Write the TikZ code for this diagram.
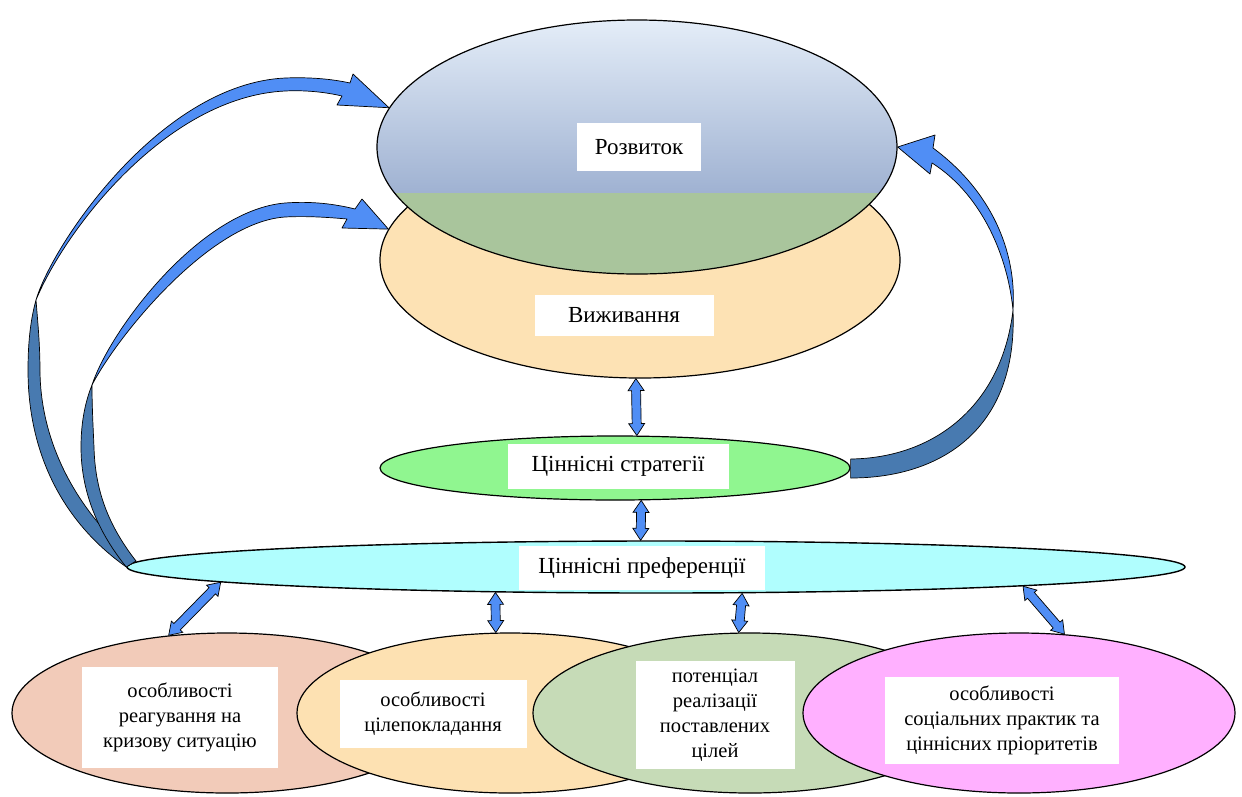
\documentclass[tikz,border=0pt]{standalone}
\usepackage{fontspec}
\setmainfont{Liberation Serif}
\usetikzlibrary{shapes.geometric,calc}

\definecolor{rozvtop}{RGB}{228,237,248}
\definecolor{rozvbot}{RGB}{127,150,192}
\definecolor{rozvgreen}{RGB}{169,197,156}
\definecolor{vyzhfill}{RGB}{253,226,180}
\definecolor{stratfill}{RGB}{144,246,144}
\definecolor{preffill}{RGB}{176,254,254}
\definecolor{crisisfill}{RGB}{242,203,185}
\definecolor{goalfill}{RGB}{253,225,178}
\definecolor{potfill}{RGB}{198,219,183}
\definecolor{practfill}{RGB}{255,176,255}
\definecolor{arrowblue}{RGB}{80,142,245}
\definecolor{arrowdark}{RGB}{72,122,176}

\tikzset{
  oval/.style={ellipse,draw,line width=1.2pt,inner sep=0pt},
  labelbox/.style={fill=white,inner sep=0pt,align=center,font=\fontsize{23}{28}\selectfont},
  smallbox/.style={labelbox,font=\fontsize{20.5}{25}\selectfont},
  ribbon/.style={draw,line width=0.7pt,line join=round},
  blockarrow/.style={draw,fill=arrowblue,line width=0.7pt,
    to path={let \p1=($(\tikztotarget)-(\tikztostart)$),
      \n1={atan2(\y1,\x1)}, \n2={veclen(\x1,\y1)} in
      [shift={(\tikztostart)},rotate=\n1]
      (0,0) -- (12,8) -- (12,4.5) -- (\n2-12,4.5) -- (\n2-12,8) -- (\n2,0)
      -- (\n2-12,-8) -- (\n2-12,-4.5) -- (12,-4.5) -- (12,-8) -- cycle}}
}

\begin{document}
\begin{tikzpicture}[x=1pt,y=-1pt]
  \useasboundingbox (0,0) rectangle (1242,796);

  % upper pair
  \node[oval,fill=vyzhfill,minimum width=520pt,minimum height=236pt] (vyzh) at (640,260) {};
  \node[oval,minimum width=520pt,minimum height=254pt,top color=rozvtop,bottom color=rozvbot,
    path picture={\fill[rozvgreen] (path picture bounding box.south west)
      rectangle ([yshift=-46pt]path picture bounding box.east);}] (rozv) at (637,147) {};

  % middle
  \node[oval,fill=stratfill,minimum width=470pt,minimum height=64pt] (strat) at (615,468) {};
  \node[oval,fill=preffill,line width=1.4pt,minimum width=1058pt,minimum height=52pt] (pref) at (656,567) {};

  % bottom row
  \node[oval,fill=crisisfill,minimum width=430pt,minimum height=160pt] (crisis) at (227,713) {};
  \node[oval,fill=goalfill,minimum width=426pt,minimum height=160pt] (goal) at (510,713) {};
  \node[oval,fill=potfill,minimum width=434pt,minimum height=160pt] (pot) at (750,713) {};
  \node[oval,fill=practfill,minimum width=432pt,minimum height=160pt] (pract) at (1019,713) {};

  % labels
  \node[labelbox,minimum width=124pt,minimum height=48pt] (rozvlbl) at (639,147) {Розвиток};
  \node[labelbox,minimum width=179pt,minimum height=41pt] (vyzhlbl) at (624,315) {Виживання};
  \node[labelbox,minimum width=221pt,minimum height=45pt] (stratlbl) at (618,466) {Ціннісні стратегії};
  \node[labelbox,minimum width=246pt,minimum height=44pt] (preflbl) at (642,568) {Ціннісні преференції};
  \node[smallbox,minimum width=196pt,minimum height=101pt] (crisislbl) at (180,717)
    {особливості\\реагування на\\кризову ситуацію};
  \node[smallbox,minimum width=187pt,minimum height=68pt] (goallbl) at (433,714)
    {особливості\\цілепокладання};
  \node[smallbox,minimum width=159pt,minimum height=108pt] (potlbl) at (715,715)
    {потенціал\\реалізації\\поставлених\\цілей};
  \node[smallbox,minimum width=234pt,minimum height=87pt] (practlbl) at (1002,720)
    {особливості\\соціальних практик та\\ціннісних пріоритетів};

  % straight double arrows
  \path
    (vyzh.268) edge[blockarrow] (strat.56)
    (strat.-51) edge[blockarrow] (pref.120)
    (pref.182) edge[blockarrow] (crisis.127)
    (pref.189) edge[blockarrow] (goal.100)
    (pref.-17) edge[blockarrow] (pot.98)
    (pref.-3) edge[blockarrow] (pract.60);

  % curved arrows, left: preferences to development
  \draw[ribbon,fill=arrowdark] (pref.west) .. controls (60,520) and (28,450) .. (28,370)
    .. controls (28,340) and (31,318) .. (36,300)
    .. controls (38,325) and (40,345) .. (40,372)
    .. controls (41,445) and (78,512) .. (136,561) -- cycle;
  \draw[ribbon,fill=arrowblue] (36,300) .. controls (52,245) and (160,84) .. (285,78)
    .. controls (310,77) and (332,79) .. (350,83) -- (353,74) -- (rozv.171) -- (337,105) -- (342,96)
    .. controls (325,92) and (305,90) .. (285,91)
    .. controls (165,97) and (64,232) .. (36,300) -- cycle;
  % preferences to survival
  \draw[ribbon,fill=arrowdark] (pref.west) .. controls (98,532) and (81,492) .. (81,447)
    .. controls (81,420) and (86,400) .. (92,385)
    .. controls (92,405) and (93,425) .. (94,447)
    .. controls (95,490) and (108,525) .. (136,561) -- cycle;
  \draw[ribbon,fill=arrowblue] (92,385) .. controls (110,330) and (200,210) .. (285,203)
    .. controls (312,201) and (335,204) .. (355,209) -- (362,199) -- (vyzh.173) -- (342,228) -- (347,219)
    .. controls (325,217) and (305,216) .. (285,217)
    .. controls (210,222) and (118,335) .. (92,385) -- cycle;

  % right: strategies to development
  \draw[ribbon,fill=arrowdark] ([yshift=9pt]strat.east) .. controls (935,458) and (1002,405) .. (1013,310)
    .. controls (1018,430) and (940,478) .. ([yshift=-10pt]strat.east) -- cycle;
  \draw[ribbon,fill=arrowblue] (1013,310) .. controls (1017,250) and (990,190) .. (933,148)
    -- (935,135) -- (rozv.east) -- (930,174) -- (932,163)
    .. controls (978,192) and (1007,250) .. (1013,310) -- cycle;
\end{tikzpicture}
\end{document}
